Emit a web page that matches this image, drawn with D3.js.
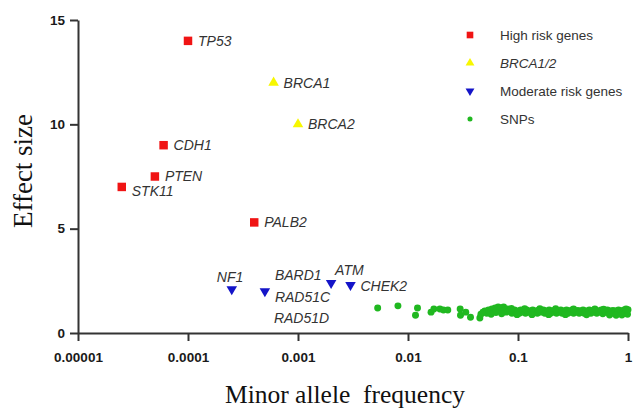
<!DOCTYPE html>
<html><head><meta charset="utf-8">
<script src="https://cdn.jsdelivr.net/npm/d3@7"></script>
<style>body{margin:0;background:#fff}</style>
</head><body>
<svg id="c" width="634" height="408"></svg>
<script>
const xTicks = [0.00001, 0.0001, 0.001, 0.01, 0.1, 1];
const xTickLabels = ["0.00001", "0.0001", "0.001", "0.01", "0.1", "1"];
const yTicks = [0, 5, 10, 15];
const seriesNames = ["High risk genes", "BRCA1/2", "Moderate risk genes", "SNPs"];

const highRisk = [
  {gene: "TP53", maf: 0.0001, eff: 14},
  {gene: "CDH1", maf: 0.00006, eff: 9},
  {gene: "PTEN", maf: 0.00005, eff: 7.5},
  {gene: "STK11", maf: 0.000025, eff: 7},
  {gene: "PALB2", maf: 0.0004, eff: 5.3}
];
const brca = [
  {gene: "BRCA1", maf: 0.0006, eff: 12},
  {gene: "BRCA2", maf: 0.001, eff: 10}
];
const moderate = [
  {gene: "NF1", maf: 0.00025, eff: 2.1},
  {gene: "BARD1", maf: 0.0005, eff: 2.0},
  {gene: "ATM", maf: 0.002, eff: 2.4},
  {gene: "CHEK2", maf: 0.003, eff: 2.3}
];
const moderateExtraLabels = ["RAD51C", "RAD51D"];

const snps = [
  [0.0053,1.2],[0.0081,1.3],[0.0122,1.2],[0.0117,0.85],[0.0162,1.0],[0.0172,1.15],[0.0195,1.15],[0.021,1.1],[0.023,1.1],
  [0.0298,1.15],[0.030,0.85],[0.0335,1.0],[0.037,0.75],[0.045,0.72],[0.046,0.9],[0.048,1.0],
  [0.050,1.05],[0.052,0.95],[0.054,1.1],[0.056,1.0],[0.058,1.15],[0.060,1.05],[0.062,1.2],[0.064,1.1],[0.066,1.25],
  [0.068,1.15],[0.070,1.2],[0.072,1.05],[0.074,1.25],[0.076,1.1],[0.078,1.0],[0.080,1.15],[0.082,1.05],[0.085,1.1],
  [0.088,0.95],[0.090,1.05],[0.093,1.1],[0.096,1.0],[0.100,1.05],[0.103,0.95],[0.106,1.1],[0.110,1.0],[0.113,1.05],
  [0.117,0.95],[0.120,1.1],[0.124,1.0],[0.128,1.05],[0.132,0.95],[0.136,1.1],[0.140,1.0],[0.145,1.05],[0.150,0.95],
  [0.155,1.1],[0.160,1.0],[0.165,1.05],[0.170,1.1],[0.175,0.95],[0.180,1.05],[0.186,1.0],[0.192,1.1],[0.198,0.95],
  [0.205,1.05],[0.210,1.0],[0.217,1.1],[0.224,0.95],[0.230,1.05],[0.237,1.0],[0.245,1.1],[0.252,0.95],[0.260,1.05],
  [0.268,1.0],[0.276,1.1],[0.285,0.95],[0.294,1.05],[0.300,1.0],[0.310,1.1],[0.320,0.95],[0.330,1.05],[0.340,1.0],
  [0.350,1.08],[0.360,0.95],[0.370,1.05],[0.380,1.0],[0.390,1.1],[0.400,0.95],[0.415,1.05],[0.430,1.0],[0.445,1.1],
  [0.460,0.95],[0.475,1.05],[0.490,1.0],[0.505,1.08],[0.520,0.95],[0.535,1.05],[0.550,1.0],[0.570,1.1],[0.590,0.92],
  [0.610,1.05],[0.630,1.0],[0.650,1.1],[0.670,0.95],[0.690,1.05],[0.710,1.0],[0.730,1.08],[0.750,0.93],[0.770,1.05],
  [0.800,1.0],[0.820,1.1],[0.850,0.95],[0.870,1.05],[0.900,1.0],[0.920,1.1],[0.950,0.95],[0.970,1.05],[0.990,0.9],[1.0,1.12],
  [0.057,0.9],[0.063,0.98],[0.071,0.92],[0.087,1.18],[0.098,0.88],[0.115,1.16],[0.134,0.88],[0.158,1.16],[0.19,0.88],
  [0.22,1.16],[0.27,0.88],[0.32,1.15],[0.42,0.87],[0.5,1.15],[0.6,1.14],[0.68,0.86],[0.78,0.85],[0.88,0.86],[0.96,1.15]
];

const colors = {red: "#f01414", yellow: "#f7f700", blue: "#1414c8", green: "#20b820"};
const ink = "#333";

const svg = d3.select("#c");
const x = d3.scaleLog().domain([1e-5, 1]).range([78, 628]);
const y = d3.scaleLinear().domain([0, 15]).range([333, 20]);

// axes
const xAxis = d3.axisBottom(x).tickValues(xTicks).tickFormat((d,i) => xTickLabels[i]).tickSize(8).tickSizeOuter(0);
const yAxis = d3.axisLeft(y).tickValues(yTicks).tickSize(8).tickSizeOuter(0);
const gx = svg.append("g").attr("transform", `translate(0,${y(0)})`).call(xAxis);
const gy = svg.append("g").attr("transform", `translate(${x(1e-5)},0)`).call(yAxis);
[gx, gy].forEach(g => {
  g.select(".domain").attr("stroke", ink).attr("stroke-width", 2);
  g.selectAll(".tick line").attr("stroke", ink).attr("stroke-width", 2);
  g.selectAll(".tick text").attr("fill", "#1a1a1a").style("font-family", "Arial, 'Liberation Sans', sans-serif")
    .style("font-weight", "bold").style("font-size", "13.5px");
});
gx.selectAll(".tick text").attr("dy", "1.35em");
gy.selectAll(".tick text").attr("dx", "-2px");

// axis titles
svg.append("text").attr("x", 345).attr("y", 403).attr("text-anchor", "middle")
  .style("font-family", "'Times New Roman', 'Liberation Serif', serif").style("font-size", "25.5px").attr("fill", "#111")
  .attr("xml:space", "preserve").text("Minor allele  frequency");
svg.append("text").attr("transform", "translate(32,171) rotate(-90)").attr("text-anchor", "middle")
  .style("font-family", "'Times New Roman', 'Liberation Serif', serif").style("font-size", "27px").attr("fill", "#111")
  .text("Effect size");

const labelFont = "Arial, 'Liberation Sans', sans-serif";
function label(tx, ty, t) {
  svg.append("text").attr("x", tx).attr("y", ty).attr("dy", "0.35em")
    .style("font-family", labelFont).style("font-style", "italic").style("font-size", "14px")
    .attr("fill", ink).text(t);
}

// SNPs
svg.append("g").selectAll("path").data(snps).join("path")
  .attr("d", d3.symbol().type(d3.symbolCircle).size(38))
  .attr("transform", d => `translate(${x(d[0])},${y(d[1])})`).attr("fill", colors.green);

// high risk
svg.append("g").selectAll("path").data(highRisk).join("path")
  .attr("d", d3.symbol().type(d3.symbolSquare).size(72))
  .attr("transform", d => `translate(${x(d.maf)},${y(d.eff)})`).attr("fill", colors.red);
highRisk.forEach(d => label(x(d.maf) + 10, y(d.eff) + (d.gene === "STK11" ? 4 : 0), d.gene));

// BRCA
svg.append("g").selectAll("path").data(brca).join("path")
  .attr("d", d3.symbol().type(d3.symbolTriangle).size(48))
  .attr("transform", d => `translate(${x(d.maf)},${y(d.eff)})`).attr("fill", colors.yellow);
brca.forEach(d => label(x(d.maf) + 10, y(d.eff), d.gene));

// moderate
svg.append("g").selectAll("path").data(moderate).join("path")
  .attr("d", d3.symbol().type(d3.symbolTriangle).size(48))
  .attr("transform", d => `translate(${x(d.maf)},${y(d.eff)}) rotate(180)`).attr("fill", colors.blue);
const nf1 = moderate[0], bard = moderate[1], atm = moderate[2], chek = moderate[3];
label(x(nf1.maf) - 15, y(nf1.eff) - 12, nf1.gene);
label(x(bard.maf) + 10, y(bard.eff) - 16, bard.gene);
label(x(bard.maf) + 10, y(bard.eff) + 6, moderateExtraLabels[0]);
label(x(bard.maf) + 9, y(bard.eff) + 27, moderateExtraLabels[1]);
label(x(atm.maf) + 4, y(atm.eff) - 13, atm.gene);
label(x(chek.maf) + 10, y(chek.eff) + 1, chek.gene);

// legend
const legendSyms = [
  {type: d3.symbolSquare, size: 44, color: colors.red, rot: 0, italic: false},
  {type: d3.symbolTriangle, size: 34, color: colors.yellow, rot: 0, italic: true},
  {type: d3.symbolTriangle, size: 34, color: colors.blue, rot: 180, italic: false},
  {type: d3.symbolCircle, size: 20, color: colors.green, rot: 0, italic: false}
];
seriesNames.forEach((n, i) => {
  const ly = 35 + i * 28;
  const s = legendSyms[i];
  svg.append("path").attr("d", d3.symbol().type(s.type).size(s.size)())
    .attr("transform", `translate(470,${ly}) rotate(${s.rot})`).attr("fill", s.color);
  svg.append("text").attr("x", 500).attr("y", ly).attr("dy", "0.35em")
    .style("font-family", labelFont).style("font-size", "13.5px").style("font-style", s.italic ? "italic" : "normal")
    .attr("fill", ink).text(n);
});
</script>
</body></html>
